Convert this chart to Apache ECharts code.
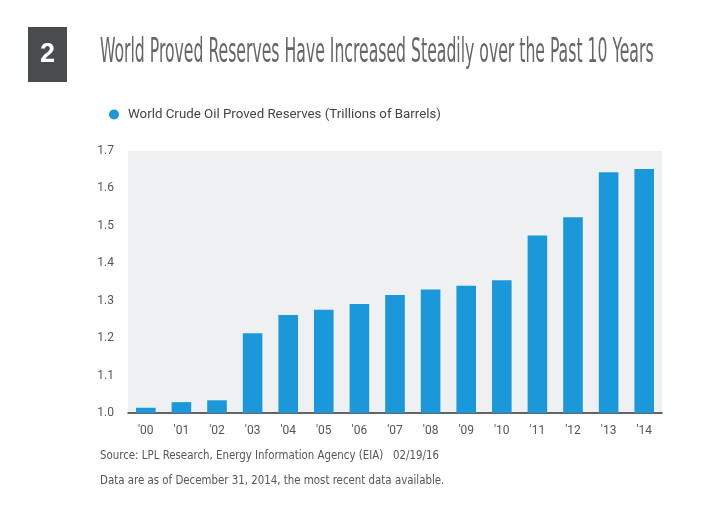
<!DOCTYPE html>
<html><head><meta charset="utf-8">
<script src="https://cdn.jsdelivr.net/npm/echarts@6/dist/echarts.min.js"></script>
<style>html,body{margin:0;padding:0;background:#fff}#c{width:728px;height:523px}</style>
</head><body><div id="c"></div>
<script>
const categories = ["'00","'01","'02","'03","'04","'05","'06","'07","'08","'09","'10","'11","'12","'13","'14"];
const reserves = [1.014, 1.029, 1.034, 1.213, 1.262, 1.276, 1.291, 1.315, 1.330, 1.340, 1.355, 1.474, 1.523, 1.643, 1.652];
const seriesName = 'World Crude Oil Proved Reserves (Trillions of Barrels)';
const titleText = 'World Proved Reserves Have Increased Steadily over the Past 10 Years';

const chart = echarts.init(document.getElementById('c'));
const condensed = '"DejaVu Sans Condensed", sans-serif';
chart.setOption({
  backgroundColor: '#fff',
  animation: false,
  legend: {
    left: 104, top: 103, itemWidth: 10, itemHeight: 10, icon: 'circle', itemGap: 10,
    textStyle: {fontFamily: 'Roboto', fontSize: 13.3, color: '#444', padding: [0, 0, 0, 4]},
    data: [seriesName]
  },
  grid: {left: 128, right: 66, top: 151, bottom: 110, show: true, backgroundColor: '#eff0f2', borderWidth: 0},
  xAxis: {
    type: 'category', data: categories,
    axisLine: {lineStyle: {color: '#333', width: 1.5}},
    axisTick: {show: false},
    axisLabel: {color: '#555', fontFamily: 'Roboto', fontSize: 12, margin: 12}
  },
  yAxis: {
    type: 'value', min: 1.0, max: 1.7, interval: 0.1,
    axisLine: {show: false}, axisTick: {show: false}, splitLine: {show: false},
    axisLabel: {color: '#555', fontFamily: 'Roboto', fontSize: 12, margin: 14, formatter: v => v.toFixed(1)}
  },
  series: [{
    name: seriesName, type: 'bar', data: reserves, barWidth: '55%',
    itemStyle: {color: '#1b98da'}
  }],
  graphic: [
    {type: 'rect', shape: {x: 28, y: 27, width: 39, height: 55}, style: {fill: '#4a4b4d'}},
    {type: 'text', x: 47.5, y: 55, style: {text: '2', fill: '#fff', font: 'bold 27px "Liberation Sans"', align: 'center', verticalAlign: 'middle'}},
    {type: 'text', x: 100, y: 53, scaleX: 0.528, style: {text: titleText, fill: '#666', font: '33px ' + condensed, verticalAlign: 'middle'}},
    {type: 'text', x: 100, y: 456, scaleX: 0.875, style: {text: 'Source: LPL Research, Energy Information Agency (EIA)   02/19/16', fill: '#555', font: '13px ' + condensed, verticalAlign: 'middle'}},
    {type: 'text', x: 100, y: 481, scaleX: 0.875, style: {text: 'Data are as of December 31, 2014, the most recent data available.', fill: '#555', font: '13px ' + condensed, verticalAlign: 'middle'}}
  ]
});
</script></body></html>
